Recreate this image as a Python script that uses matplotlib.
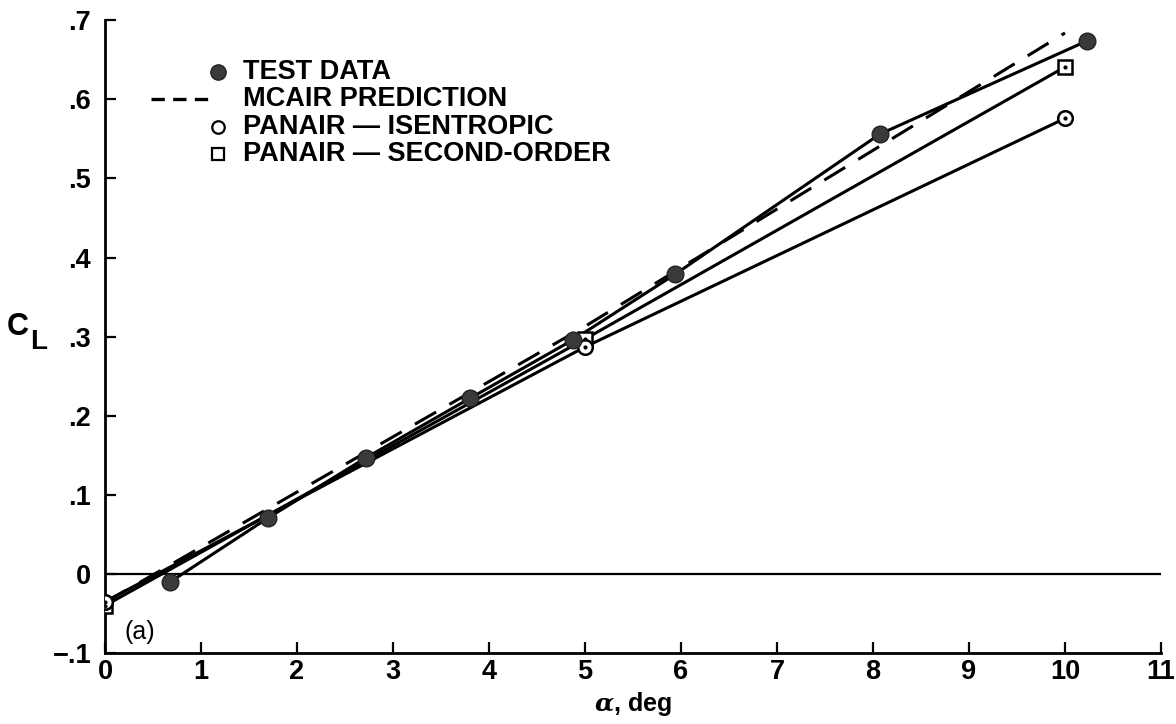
import matplotlib
matplotlib.use("Agg")
import matplotlib.pyplot as plt

plt.rcParams['font.family'] = ['Liberation Sans', 'DejaVu Sans']
plt.rcParams['font.weight'] = 'bold'
plt.rcParams['mathtext.fontset'] = 'dejavuserif'

# data
test_alpha = [0.68, 1.70, 2.72, 3.80, 4.875, 5.94, 8.07, 10.23]
test_cl = [-0.010, 0.071, 0.147, 0.222, 0.296, 0.379, 0.556, 0.674]

mcair_alpha = [0.0, 5.0, 10.0]
mcair_cl = [-0.036, 0.313, 0.684]

isen_alpha = [0.0, 5.0, 10.0]
isen_cl = [-0.035, 0.287, 0.576]

second_alpha = [0.0, 5.0, 10.0]
second_cl = [-0.040, 0.297, 0.641]

xticks = list(range(0, 12))
yticks = [-0.1, 0.0, 0.1, 0.2, 0.3, 0.4, 0.5, 0.6, 0.7]
ytick_labels = ['\u2212.1', '0', '.1', '.2', '.3', '.4', '.5', '.6', '.7']

legend_labels = ['TEST DATA', 'MCAIR PREDICTION', 'PANAIR \u2014 ISENTROPIC',
                 'PANAIR \u2014 SECOND-ORDER']

fig = plt.figure(figsize=(11.76, 7.24), dpi=100)
ax = fig.add_axes([0.0893, 0.098, 0.898, 0.874])

ax.axhline(0, color='black', lw=1.6, zorder=1)

ax.plot(mcair_alpha, mcair_cl, color='black', lw=2.2, dashes=(8, 5), zorder=2)
ax.plot(isen_alpha, isen_cl, color='black', lw=2.2, zorder=2)
ax.plot(second_alpha, second_cl, color='black', lw=2.2, zorder=2)
ax.plot(test_alpha, test_cl, color='black', lw=2.2, zorder=2)

ax.plot(second_alpha, second_cl, ls='none', marker='s', ms=10, mfc='white',
        mec='black', mew=1.8, zorder=3)
ax.plot(isen_alpha, isen_cl, ls='none', marker='o', ms=10.5, mfc='white',
        mec='black', mew=1.8, zorder=4)
ax.plot(isen_alpha + second_alpha, isen_cl + second_cl, ls='none', marker='o',
        ms=2, color='black', zorder=5)
ax.plot(test_alpha, test_cl, ls='none', marker='o', ms=12, mfc='#3a3a3a',
        mec='#222222', mew=1, zorder=5)

# legend drawn by hand to match the original layout
rows = [0.918, 0.875, 0.832, 0.789]
mx, tx = 0.107, 0.131
ax.plot([mx], [rows[0]], transform=ax.transAxes, marker='o', ms=11,
        mfc='#3a3a3a', mec='#222222', ls='none', clip_on=False)
ax.plot([0.044, 0.105], [rows[1], rows[1]], transform=ax.transAxes,
        color='black', lw=2.4, dashes=(4, 2.5), clip_on=False)
ax.plot([mx], [rows[2]], transform=ax.transAxes, marker='o', ms=9,
        mfc='white', mec='black', mew=1.6, ls='none', clip_on=False)
ax.plot([mx], [rows[3]], transform=ax.transAxes, marker='s', ms=9,
        mfc='white', mec='black', mew=1.6, ls='none', clip_on=False)
for y, lab in zip(rows, legend_labels):
    ax.text(tx, y, lab, transform=ax.transAxes, fontsize=19.5,
            fontweight='bold', va='center', ha='left')

ax.text(0.2, -0.074, '(a)', fontsize=18, fontweight='normal', va='center')

ax.set_xlim(0, 11)
ax.set_ylim(-0.1, 0.7)
ax.set_xticks(xticks)
ax.set_xticklabels([str(t) for t in xticks])
ax.set_yticks(yticks)
ax.set_yticklabels(ytick_labels)
ax.tick_params(direction='in', length=8, width=1.6, labelsize=19.5)
ax.tick_params(axis='x', pad=4)
ax.tick_params(axis='y', pad=10)
for lbl in ax.get_xticklabels() + ax.get_yticklabels():
    lbl.set_fontweight('bold')

for side in ['top', 'right']:
    ax.spines[side].set_visible(False)
for side in ['left', 'bottom']:
    ax.spines[side].set_linewidth(2)

ax.set_xlabel(r'$\alpha$, deg', fontsize=18, fontweight='bold', labelpad=4)

fig.text(0.0155, 0.548, 'C', fontsize=22, fontweight='bold', ha='center', va='center')
fig.text(0.033, 0.527, 'L', fontsize=20, fontweight='bold', ha='center', va='center')

fig.savefig('out.png', dpi=100)
